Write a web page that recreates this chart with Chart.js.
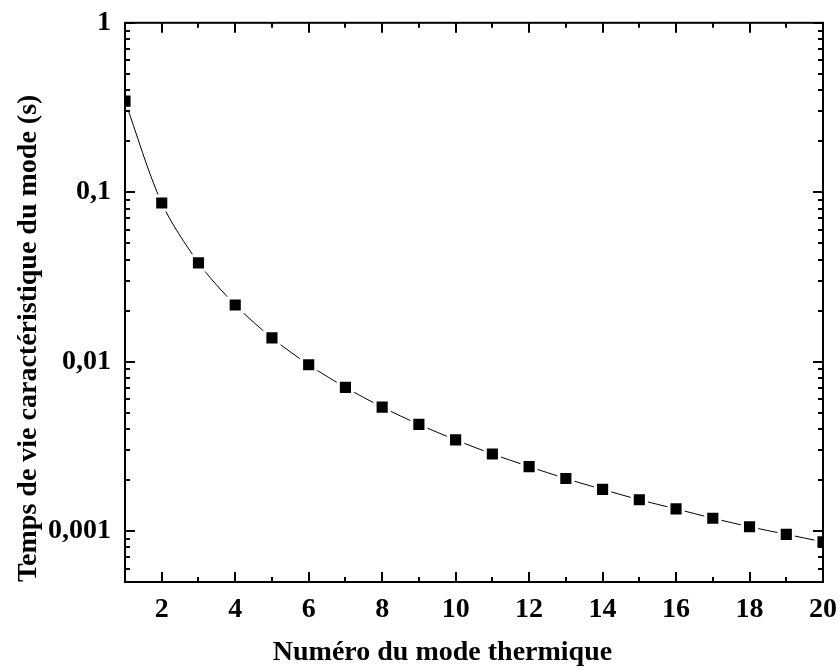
<!DOCTYPE html>
<html>
<head>
<meta charset="utf-8">
<script src="https://cdn.jsdelivr.net/npm/chart.js@4"></script>
<style>
  html, body { margin: 0; padding: 0; background: #fff; }
  #wrap { width: 840px; height: 670px; }
</style>
</head>
<body>
<div id="wrap"><canvas id="chart" width="840" height="670"></canvas></div>
<script>
// mode number -> characteristic lifetime (s)
const modes = [1, 2, 3, 4, 5, 6, 7, 8, 9, 10, 11, 12, 13, 14, 15, 16, 17, 18, 19, 20];
const lifetimes = [0.345, 0.0863, 0.0383, 0.0216, 0.0138, 0.00958, 0.00704, 0.00539, 0.00426, 0.00345,
  0.00285, 0.00240, 0.00204, 0.00176, 0.00153, 0.00135, 0.00119, 0.00106, 0.000956, 0.000863];

const xMajorTicks = [2, 4, 6, 8, 10, 12, 14, 16, 18, 20];
const xMinorTicks = [1, 3, 5, 7, 9, 11, 13, 15, 17, 19];
const yMajorTicks = [0.001, 0.01, 0.1, 1];
const yTickLabels = ['0,001', '0,01', '0,1', '1'];
const yMinorTicks = [0.0005, 0.0006, 0.0007, 0.0008, 0.0009,
  0.002, 0.003, 0.004, 0.005, 0.006, 0.007, 0.008, 0.009,
  0.02, 0.03, 0.04, 0.05, 0.06, 0.07, 0.08, 0.09,
  0.2, 0.3, 0.4, 0.5, 0.6, 0.7, 0.8, 0.9];

const FONT = { family: '"Liberation Serif", "Times New Roman", serif', size: 28, weight: 'bold' };

// frame + inward ticks on all four sides
const frameTicks = {
  id: 'frameTicks',
  afterDraw(c) {
    const { ctx, chartArea: a, scales: { x, y } } = c;
    ctx.save();
    ctx.strokeStyle = '#000';
    ctx.lineWidth = 2;
    ctx.strokeRect(a.left, a.top, a.right - a.left, a.bottom - a.top);
    ctx.beginPath();
    const xt = (v, len) => {
      const px = Math.round(x.getPixelForValue(v));
      ctx.moveTo(px, a.bottom); ctx.lineTo(px, a.bottom - len);
      ctx.moveTo(px, a.top); ctx.lineTo(px, a.top + len);
    };
    const yt = (v, len) => {
      const py = Math.round(y.getPixelForValue(v));
      ctx.moveTo(a.left, py); ctx.lineTo(a.left + len, py);
      ctx.moveTo(a.right, py); ctx.lineTo(a.right - len, py);
    };
    xMajorTicks.forEach((v) => xt(v, 10));
    xMinorTicks.forEach((v) => xt(v, 5));
    yMajorTicks.forEach((v) => yt(v, 10));
    yMinorTicks.forEach((v) => yt(v, 5));
    ctx.stroke();
    ctx.restore();
  }
};

new Chart(document.getElementById('chart'), {
  type: 'line',
  data: {
    labels: modes,
    datasets: [{
      data: modes.map((m, i) => ({ x: m, y: lifetimes[i] })),
      borderColor: '#000',
      borderWidth: 1,
      tension: 0.3,
      pointStyle: 'rect',
      pointRadius: 10,
      pointBackgroundColor: '#000',
      pointBorderColor: '#fff',
      pointBorderWidth: 3,
      clip: 0
    }]
  },
  plugins: [frameTicks],
  options: {
    responsive: false,
    animation: false,
    events: [],
    layout: { padding: { top: 17, right: 13, left: 0, bottom: 0 } },
    plugins: { legend: { display: false }, tooltip: { enabled: false } },
    scales: {
      x: {
        type: 'linear',
        min: 1,
        max: 20,
        afterBuildTicks: (s) => { s.ticks = xMajorTicks.map((v) => ({ value: v })); },
        afterFit: (s) => { s.height = 88; },
        grid: { display: false },
        border: { display: false },
        ticks: { color: '#000', font: FONT, padding: 3, maxRotation: 0, autoSkip: false },
        title: {
          display: true, color: '#000', font: FONT, padding: 0,
          text: 'Numéro du mode thermique\u00a0\u00a0\u00a0\u00a0\u00a0\u00a0\u00a0\u00a0\u00a0'
        }
      },
      y: {
        type: 'logarithmic',
        min: 0.0005,
        max: 1,
        afterBuildTicks: (s) => { s.ticks = yMajorTicks.map((v) => ({ value: v })); },
        afterFit: (s) => { s.width = 125; },
        grid: { display: false },
        border: { display: false },
        ticks: {
          color: '#000', font: FONT, padding: 6, autoSkip: false,
          callback: (v) => { const i = yMajorTicks.indexOf(v); return i >= 0 ? yTickLabels[i] : ''; }
        },
        title: {
          display: true, color: '#000', font: FONT, align: 'start', padding: { top: 12, bottom: 0 },
          text: 'Temps de vie caractéristique du mode (s)'
        }
      }
    }
  }
});
</script>
</body>
</html>
